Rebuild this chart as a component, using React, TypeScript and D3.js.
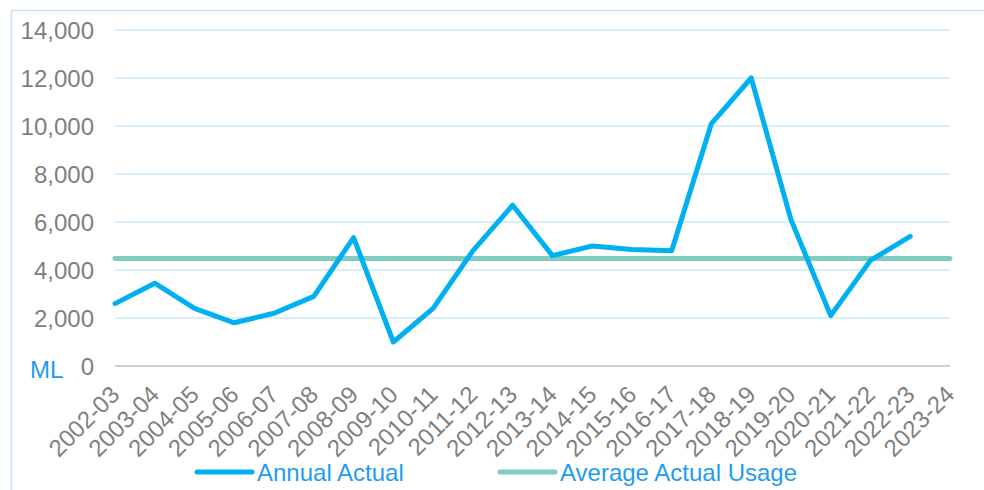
import * as d3 from "d3";
import { useEffect, useRef } from "react";

// Chart values
const years = [
  "2002-03", "2003-04", "2004-05", "2005-06", "2006-07", "2007-08", "2008-09",
  "2009-10", "2010-11", "2011-12", "2012-13", "2013-14", "2014-15", "2015-16",
  "2016-17", "2017-18", "2018-19", "2019-20", "2020-21", "2021-22", "2022-23",
  "2023-24",
];
const annualActual: (number | null)[] = [
  2600, 3450, 2400, 1800, 2200, 2900, 5350, 1000, 2400, 4800, 6700, 4600, 5000,
  4850, 4800, 10100, 12000, 6100, 2100, 4400, 5400, null,
];
const averageUsage = 4480;
const yTicks = [0, 2000, 4000, 6000, 8000, 10000, 12000, 14000];
const legendItems = ["Annual Actual", "Average Actual Usage"];

const App = () => {
  const ref = useRef<SVGSVGElement>(null);

  useEffect(() => {
    const W = 984, H = 490;
    const margin = { top: 30, right: 34, bottom: 124, left: 115 };
    const width = W - margin.left - margin.right;
    const height = H - margin.top - margin.bottom;
    const font = "'Liberation Sans', Arial, sans-serif";

    const svg = d3.select(ref.current);
    svg.selectAll("*").remove();

    // outer frame (left + top edges visible)
    svg.append("path")
      .attr("d", `M11.5,${H} V10.5 H${W}`)
      .attr("fill", "none")
      .attr("stroke", "#c5e3fb")
      .attr("stroke-width", 1.5);

    const g = svg.append("g").attr("transform", `translate(${margin.left},${margin.top})`);

    const x = d3.scalePoint().domain(years).range([0, width]);
    const y = d3.scaleLinear().domain([0, 14000]).range([height, 0]);

    // gridlines
    g.selectAll("line.grid")
      .data(yTicks.filter((d) => d > 0))
      .join("line")
      .attr("x1", 0)
      .attr("x2", width)
      .attr("y1", (d) => y(d))
      .attr("y2", (d) => y(d))
      .attr("stroke", "#cfe8fb")
      .attr("stroke-width", 1.5);

    // zero axis
    g.append("line")
      .attr("x1", 0)
      .attr("x2", width)
      .attr("y1", y(0))
      .attr("y2", y(0))
      .attr("stroke", "#bfbfbf")
      .attr("stroke-width", 1.5);

    // y labels
    g.selectAll("text.ylab")
      .data(yTicks)
      .join("text")
      .attr("x", -21)
      .attr("y", (d) => y(d))
      .attr("dy", "0.36em")
      .attr("text-anchor", "end")
      .attr("font-family", font)
      .attr("font-size", 24)
      .attr("fill", "#7f7f7f")
      .text((d) => d3.format(",")(d));

    // unit label
    g.append("text")
      .attr("x", 30 - margin.left)
      .attr("y", y(0) + 12)
      .attr("font-family", font)
      .attr("font-size", 24)
      .attr("fill", "#1f9bf0")
      .text("ML");

    // x labels
    g.selectAll("text.xlab")
      .data(years)
      .join("text")
      .attr("transform", (d) => `translate(${(x(d) ?? 0) + 6},${height + 30}) rotate(-45)`)
      .attr("text-anchor", "end")
      .attr("font-family", font)
      .attr("font-size", 24)
      .attr("fill", "#7f7f7f")
      .text((d) => d);

    // average line
    g.append("line")
      .attr("x1", 0)
      .attr("x2", width)
      .attr("y1", y(averageUsage))
      .attr("y2", y(averageUsage))
      .attr("stroke", "#7fcdc1")
      .attr("stroke-width", 5)
      .attr("stroke-linecap", "round");

    // annual line
    const line = d3.line<number | null>()
      .defined((d) => d !== null)
      .x((_, i) => x(years[i]) ?? 0)
      .y((d) => y(d as number));
    g.append("path")
      .datum(annualActual)
      .attr("d", line)
      .attr("fill", "none")
      .attr("stroke", "#00b0f0")
      .attr("stroke-width", 5)
      .attr("stroke-linejoin", "round")
      .attr("stroke-linecap", "round");

    // legend
    const legendColors = ["#00b0f0", "#7fcdc1"];
    const legendX = [197, 500];
    const leg = svg.append("g");
    legendItems.forEach((name, i) => {
      leg.append("line")
        .attr("x1", legendX[i])
        .attr("x2", legendX[i] + 55)
        .attr("y1", 472)
        .attr("y2", 472)
        .attr("stroke", legendColors[i])
        .attr("stroke-width", 5)
        .attr("stroke-linecap", "round");
      leg.append("text")
        .attr("x", legendX[i] + 60)
        .attr("y", 472)
        .attr("dy", "0.36em")
        .attr("font-family", font)
        .attr("font-size", 24)
        .attr("fill", "#1f9bf0")
        .text(name);
    });
  }, []);

  return (
    <svg
      ref={ref}
      width={984}
      height={490}
      style={{ position: "absolute", left: 0, top: 0, background: "#fff" }}
    />
  );
};

export default App;
